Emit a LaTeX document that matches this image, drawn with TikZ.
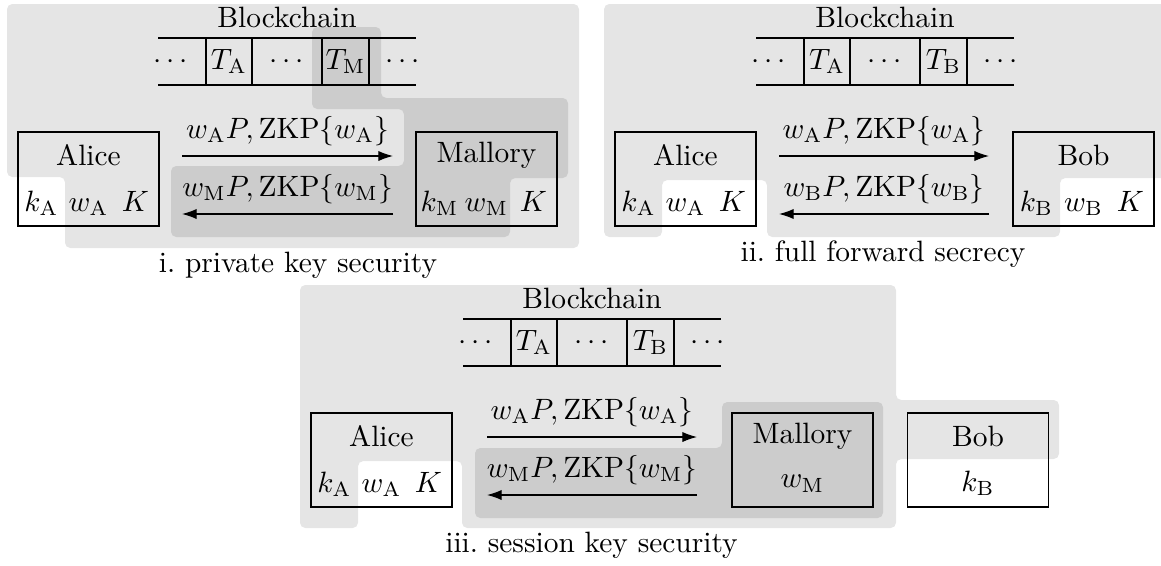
\documentclass[tikz,border=0pt]{standalone}
\usetikzlibrary{arrows.meta}
\definecolor{lightsh}{gray}{0.9}
\definecolor{darksh}{gray}{0.8}
\newcommand{\mychain}[4]{%
  \begin{scope}[shift={(#2,#3)}]
    \draw (0,0) -- (258,0) (0,47) -- (258,47)
          (48,0) -- (48,47) (94,0) -- (94,47) (164,0) -- (164,47) (211,0) -- (211,47);
    \node (#1d1) at (13,23.5) {$\cdots$};
    \node (#1ta) at (71,23.5) {$T_{\mathrm{A}}$};
    \node (#1d2) at (129,23.5) {$\cdots$};
    \node (#1tx) at (187.5,23.5) {$T_{\mathrm{#4}}$};
    \node (#1d3) at (245,23.5) {$\cdots$};
    \node[captxt] (#1bc) at (129,-11) {Blockchain};
  \end{scope}}
\begin{document}
\begin{tikzpicture}[x=0.34pt,y=-0.34pt,
  box/.style={draw, minimum width=47.94pt, minimum height=31.96pt, inner sep=0pt, outer sep=0pt},
  nm/.style={inner sep=0pt},
  kb/.style={anchor=base, inner sep=0pt},
  msg/.style={-{Latex[length=5pt,width=3.5pt]}},
  lt/.style={fill=lightsh, rounded corners=1.8pt},
  dk/.style={fill=darksh, rounded corners=1.8pt},
  captxt/.style={anchor=base, inner sep=0pt}]
\useasboundingbox (0,0) rectangle (1161,565);

% ---------- shading ----------
\fill[lt] (7,4) -- (579,4) -- (579,248) -- (65,248) -- (65,177) -- (7,177) -- cycle;
\fill[dk] (312,27) -- (381,27) -- (381,98) -- (568,98) -- (568,178) -- (510,178) -- (510,237)
  -- (171,237) -- (171,166) -- (404,166) -- (404,109) -- (312,109) -- cycle;
\fill[lt] (604,4) -- (1170,4) -- (1170,178) -- (1060,178) -- (1060,237) -- (767,237)
  -- (767,180) -- (662,180) -- (662,237) -- (604,237) -- cycle;
\fill[lt] (300,285) -- (896,285) -- (896,400) -- (1059,400) -- (1059,459) -- (896,459)
  -- (896,528) -- (462,528) -- (462,461) -- (358,461) -- (358,528) -- (300,528) -- cycle;
\fill[dk] (722,402) -- (883,402) -- (883,518) -- (475,518) -- (475,448) -- (722,448) -- cycle;

% ---------- panel i ----------
\mychain{c1}{158}{38}{M}
\node[box] (A1) at (88.5,179) {};
\node[nm] (A1n) at (88.5,155.5) {Alice};
\node[kb] (A1k) at (41.5,211) {$k_{\mathrm{A}}$};
\node[kb] (A1w) at (88.5,211) {$w_{\mathrm{A}}$};
\node[kb] (A1K) at (135.5,211) {$K$};
\node[box] (M1) at (486.5,179) {};
\node[nm] (M1n) at (486.5,155.5) {Mallory};
\node[kb] (M1k) at (439.5,211) {$k_{\mathrm{M}}$};
\node[kb] (M1w) at (486.5,211) {$w_{\mathrm{M}}$};
\node[kb] (M1K) at (533.5,211) {$K$};
\coordinate (p1a) at (182,156); \coordinate (p1b) at (393,156);
\coordinate (p1c) at (393,214); \coordinate (p1d) at (182,214);
\draw[msg] (p1a) -- node[above] (l1a) {$w_{\mathrm{A}}P, \mathrm{ZKP}\{w_{\mathrm{A}}\}$} (p1b);
\draw[msg] (p1c) -- node[above] (l1b) {$w_{\mathrm{M}}P, \mathrm{ZKP}\{w_{\mathrm{M}}\}$} (p1d);
\node[captxt] (cap1) at (298,272) {i.\ private key security};

% ---------- panel ii ----------
\mychain{c2}{756}{38}{B}
\node[box] (A2) at (685.5,179) {};
\node[nm] (A2n) at (685.5,155.5) {Alice};
\node[kb] (A2k) at (638.5,211) {$k_{\mathrm{A}}$};
\node[kb] (A2w) at (685.5,211) {$w_{\mathrm{A}}$};
\node[kb] (A2K) at (732.5,211) {$K$};
\node[box] (B2) at (1083.5,179) {};
\node[nm] (B2n) at (1083.5,155.5) {Bob};
\node[kb] (B2k) at (1036.5,211) {$k_{\mathrm{B}}$};
\node[kb] (B2w) at (1083.5,211) {$w_{\mathrm{B}}$};
\node[kb] (B2K) at (1130.5,211) {$K$};
\coordinate (p2a) at (779,156); \coordinate (p2b) at (989,156);
\coordinate (p2c) at (989,214); \coordinate (p2d) at (779,214);
\draw[msg] (p2a) -- node[above] (l2a) {$w_{\mathrm{A}}P, \mathrm{ZKP}\{w_{\mathrm{A}}\}$} (p2b);
\draw[msg] (p2c) -- node[above] (l2b) {$w_{\mathrm{B}}P, \mathrm{ZKP}\{w_{\mathrm{B}}\}$} (p2d);
\node[captxt] (cap2) at (883,261) {ii.\ full forward secrecy};

% ---------- panel iii ----------
\mychain{c3}{463}{319}{B}
\node[box] (A3) at (381.5,460) {};
\node[nm] (A3n) at (381.5,436.5) {Alice};
\node[kb] (A3k) at (334.5,492) {$k_{\mathrm{A}}$};
\node[kb] (A3w) at (381.5,492) {$w_{\mathrm{A}}$};
\node[kb] (A3K) at (428.5,492) {$K$};
\node[box] (M3) at (802.5,460) {};
\node[nm] (M3n) at (802.5,436.5) {Mallory};
\node[nm] (M3w) at (802.5,483.5) {$w_{\mathrm{M}}$};
\node[box] (B3) at (978,460) {};
\node[nm] (B3n) at (978,436.5) {Bob};
\node[nm] (B3k) at (978,483.5) {$k_{\mathrm{B}}$};
\coordinate (p3a) at (487,437); \coordinate (p3b) at (697,437);
\coordinate (p3c) at (697,495); \coordinate (p3d) at (487,495);
\draw[msg] (p3a) -- node[above] (l3a) {$w_{\mathrm{A}}P, \mathrm{ZKP}\{w_{\mathrm{A}}\}$} (p3b);
\draw[msg] (p3c) -- node[above] (l3b) {$w_{\mathrm{M}}P, \mathrm{ZKP}\{w_{\mathrm{M}}\}$} (p3d);
\node[captxt] (cap3) at (591.5,552) {iii.\ session key security};
\end{tikzpicture}
\end{document}
